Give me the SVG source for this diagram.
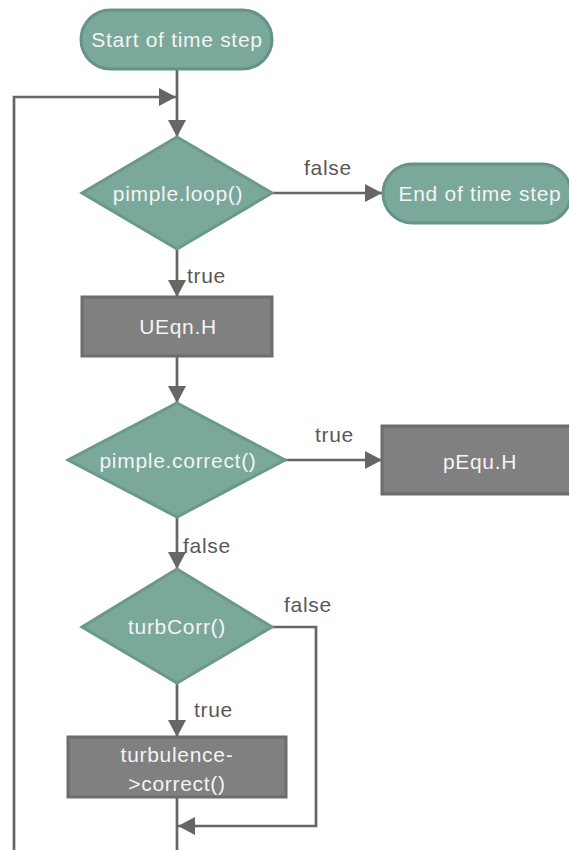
<svg xmlns="http://www.w3.org/2000/svg" width="569" height="850" viewBox="0 0 569 850">
  <style>
    .term { fill: #7aa89a; stroke: #66928a; stroke-width: 3; }
    .dec { fill: #7aa89a; stroke: #6a998b; stroke-width: 3; }
    .proc { fill: #808080; stroke: #6d6d6d; stroke-width: 3; }
    .txt { font-family: "Liberation Sans", Arial, sans-serif; font-size: 21px; letter-spacing: 0.7px; fill: #f4f4f4; text-anchor: middle; }
    .lbl { font-family: "Liberation Sans", Arial, sans-serif; font-size: 21px; letter-spacing: 0.7px; fill: #595959; }
    .edge { fill: none; stroke: #666666; stroke-width: 2.7; }
  </style>
  <defs>
    <marker id="arrow" markerUnits="userSpaceOnUse" markerWidth="18" markerHeight="18" refX="17" refY="9" orient="auto">
      <path d="M0,0 L17,9 L0,18 Z" fill="#666666"/>
    </marker>
  </defs>
  <rect width="569" height="850" fill="#ffffff"/>

  <!-- connectors -->
  <g id="connectors">
    <path class="edge" d="M177,69 V137" marker-end="url(#arrow)"/>
    <path class="edge" d="M177,797 V880 H14 V97 H176" marker-end="url(#arrow)"/>
    <path class="edge" d="M272,193 H382" marker-end="url(#arrow)"/>
    <path class="edge" d="M177,249 V297" marker-end="url(#arrow)"/>
    <path class="edge" d="M177,356 V403" marker-end="url(#arrow)"/>
    <path class="edge" d="M285,460 H382" marker-end="url(#arrow)"/>
    <path class="edge" d="M177,517 V569" marker-end="url(#arrow)"/>
    <path class="edge" d="M177,683 V737" marker-end="url(#arrow)"/>
    <path class="edge" d="M272,627 H316 V826 H178" marker-end="url(#arrow)"/>
    <text class="lbl" x="304" y="175">false</text>
    <text class="lbl" x="187" y="283">true</text>
    <text class="lbl" x="315" y="442">true</text>
    <text class="lbl" x="183" y="553">false</text>
    <text class="lbl" x="284" y="612">false</text>
    <text class="lbl" x="194" y="717">true</text>
  </g>

  <g id="start">
    <rect class="term" x="81" y="10" width="191" height="59" rx="29.5"/>
    <text class="txt" x="177" y="47">Start of time step</text>
  </g>

  <g id="pimpleLoop">
    <polygon class="dec" points="177,137 272,193 177,249 82,193"/>
    <text class="txt" x="178" y="201">pimple.loop()</text>
  </g>

  <g id="end">
    <rect class="term" x="383" y="164" width="188" height="59" rx="29.5"/>
    <text class="txt" x="480" y="201">End of time step</text>
  </g>

  <g id="UEqn">
    <rect class="proc" x="82" y="297" width="190" height="59"/>
    <text class="txt" x="178" y="334">UEqn.H</text>
  </g>

  <g id="pimpleCorrect">
    <polygon class="dec" points="177,403 285,460 177,517 68,460"/>
    <text class="txt" x="178" y="468">pimple.correct()</text>
  </g>

  <g id="pEqu">
    <rect class="proc" x="382" y="426" width="194" height="68"/>
    <text class="txt" x="480" y="469">pEqu.H</text>
  </g>

  <g id="turbCorr">
    <polygon class="dec" points="177,569 272,627 177,683 82,627"/>
    <text class="txt" x="177" y="634">turbCorr()</text>
  </g>

  <g id="turbulenceCorrect">
    <rect class="proc" x="68" y="737" width="218" height="60"/>
    <text class="txt" x="177" y="762">turbulence-</text>
    <text class="txt" x="177" y="791">&gt;correct()</text>
  </g>
</svg>
